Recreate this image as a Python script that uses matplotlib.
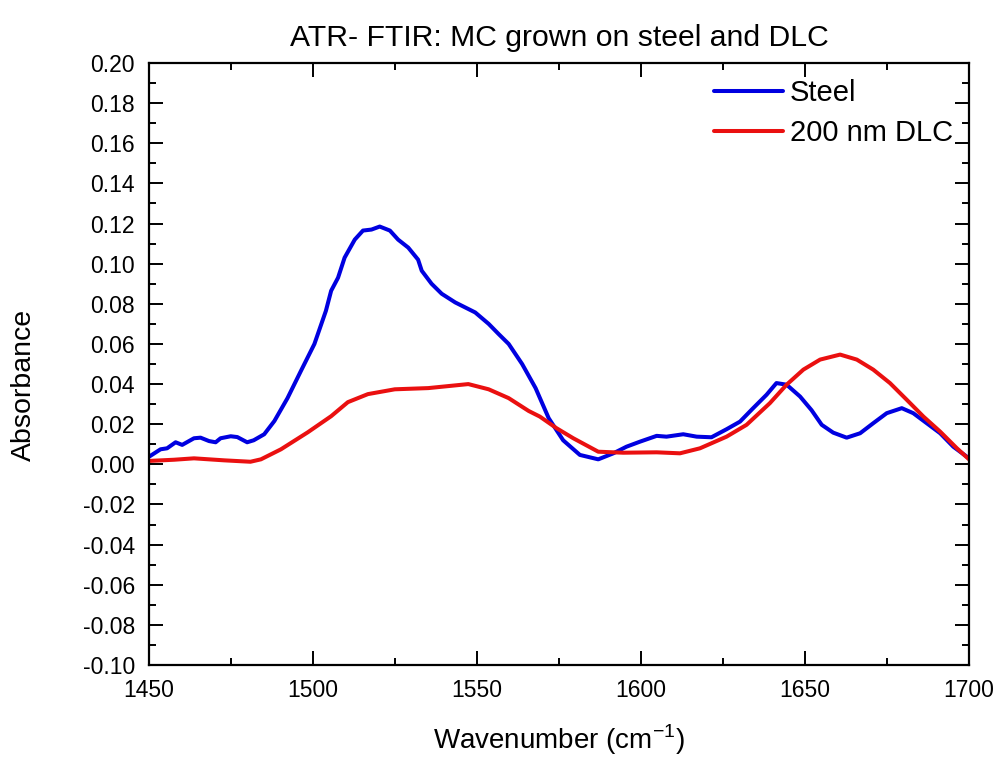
import matplotlib
matplotlib.use("Agg")
import matplotlib.pyplot as plt
from matplotlib import font_manager
from matplotlib.ticker import MultipleLocator, FuncFormatter

# Spectra (wavenumber in cm^-1, absorbance)
steel_wn = [1450, 1453.6, 1455.6, 1458.2, 1460.2, 1463.8, 1465.8, 1468.4, 1470.4, 1471.9,
            1475, 1477, 1480, 1482, 1485.2, 1488.3, 1492.3, 1496.4, 1500.5, 1504,
            1505.6, 1507.7, 1509.7, 1512.8, 1515.3, 1517.9, 1520.4, 1523.5, 1526, 1529.1,
            1532.1, 1533.2, 1536.2, 1539.3, 1543.4, 1549.5, 1553.6, 1556.6, 1559.7, 1563.8,
            1567.9, 1571.9, 1576.3, 1581.4, 1587, 1591.6, 1595.6, 1599.7, 1604.8, 1607.8,
            1612.9, 1617, 1621.5, 1626.1, 1630.2, 1634.2, 1638.3, 1641.3, 1644.4, 1648.5,
            1652, 1655.1, 1658.6, 1662.7, 1666.8, 1670.8, 1674.9, 1679.5, 1683, 1687.1,
            1691.2, 1695.2, 1700]
steel_abs = [0.0037, 0.0075, 0.008, 0.011, 0.0097, 0.013, 0.0133, 0.0116, 0.011, 0.013,
             0.014, 0.0136, 0.011, 0.012, 0.015, 0.0216, 0.033, 0.0466, 0.06, 0.0765,
             0.0865, 0.093, 0.103, 0.112, 0.1165, 0.117, 0.1185, 0.1165, 0.112, 0.108,
             0.102, 0.0965, 0.09, 0.085, 0.0807, 0.0757, 0.07, 0.065, 0.06, 0.05,
             0.038, 0.023, 0.012, 0.0047, 0.0025, 0.0055, 0.0088, 0.0113, 0.0142, 0.0138,
             0.015, 0.0138, 0.0135, 0.0175, 0.0213, 0.028, 0.0347, 0.0405, 0.0397, 0.0338,
             0.027, 0.0197, 0.0158, 0.0133, 0.0155, 0.0205, 0.0255, 0.028, 0.0255, 0.0205,
             0.0155, 0.0088, 0.003]

dlc_wn = [1450, 1457.7, 1463.8, 1473, 1481, 1484.2, 1490.3, 1498.5, 1505.6, 1510.7,
          1516.8, 1525, 1535.2, 1541.3, 1547.4, 1553.6, 1559.7, 1565.8, 1569.2, 1574.3,
          1579.4, 1587, 1594.6, 1604.8, 1611.9, 1618, 1626.1, 1632.2, 1639.3, 1644.4,
          1649.5, 1654.6, 1660.7, 1665.8, 1670.8, 1675.9, 1681, 1686.1, 1691.2, 1696.3,
          1700]
dlc_abs = [0.0017, 0.0023, 0.003, 0.002, 0.0013, 0.0025, 0.0075, 0.016, 0.024, 0.031,
           0.035, 0.0374, 0.038, 0.039, 0.040, 0.0374, 0.033, 0.0266, 0.0238, 0.018,
           0.013, 0.0063, 0.0058, 0.006, 0.0055, 0.008, 0.0138, 0.0197, 0.0305, 0.0397,
           0.0472, 0.0522, 0.0547, 0.0522, 0.0472, 0.0405, 0.0322, 0.0238, 0.0163, 0.008,
           0.0025]

series_labels = ["Steel", "200 nm DLC"]
title_text = "ATR- FTIR: MC grown on steel and DLC"

available = {f.name for f in font_manager.fontManager.ttflist}
base_font = "Liberation Sans" if "Liberation Sans" in available else "DejaVu Sans"
plt.rcParams["font.family"] = [base_font, "DejaVu Sans"]
plt.rcParams["mathtext.fontset"] = "custom"
plt.rcParams["mathtext.rm"] = base_font

fig = plt.figure(figsize=(9.98, 7.59), dpi=100)
ax = fig.add_axes([0.149, 0.1238, 0.822, 0.7932])

ax.plot(steel_wn, steel_abs, color="#0000e0", lw=2.9, label=series_labels[0],
        solid_joinstyle="round", solid_capstyle="round")
ax.plot(dlc_wn, dlc_abs, color="#ea1010", lw=2.9, label=series_labels[1],
        solid_joinstyle="round", solid_capstyle="round")

ax.set_xlim(1450, 1700)
ax.set_ylim(-0.10, 0.20)
ax.xaxis.set_major_locator(MultipleLocator(50))
ax.xaxis.set_minor_locator(MultipleLocator(25))
ax.yaxis.set_major_locator(MultipleLocator(0.02))
ax.yaxis.set_minor_locator(MultipleLocator(0.01))


def fmt_abs(v, pos):
    s = f"{v:.2f}"
    return "0.00" if s == "-0.00" else s


ax.yaxis.set_major_formatter(FuncFormatter(fmt_abs))

for s in ax.spines.values():
    s.set_linewidth(1.6)
ax.tick_params(which="both", direction="in", top=True, right=True, width=1.4,
               labelsize=16.5)
ax.tick_params(which="major", length=10)
ax.tick_params(which="minor", length=5)
ax.tick_params(axis="y", which="major", pad=10)
ax.tick_params(axis="x", which="major", pad=10)

ax.set_title(title_text, fontsize=21.7, pad=12)
ax.set_xlabel(r"Wavenumber (cm$^{\mathregular{-1}}$)", fontsize=20)
ax.xaxis.label.set_va("baseline")
ax.xaxis.set_label_coords(0.5, -0.139)
ax.set_ylabel("Absorbance", fontsize=20.5)
ax.yaxis.set_label_coords(-0.136, 0.465)

leg = ax.legend(loc="upper right", frameon=False, fontsize=21, handlelength=2.35,
                handletextpad=0.25, borderaxespad=0.15, labelspacing=0.42)

fig.savefig("out.png", dpi=100)
